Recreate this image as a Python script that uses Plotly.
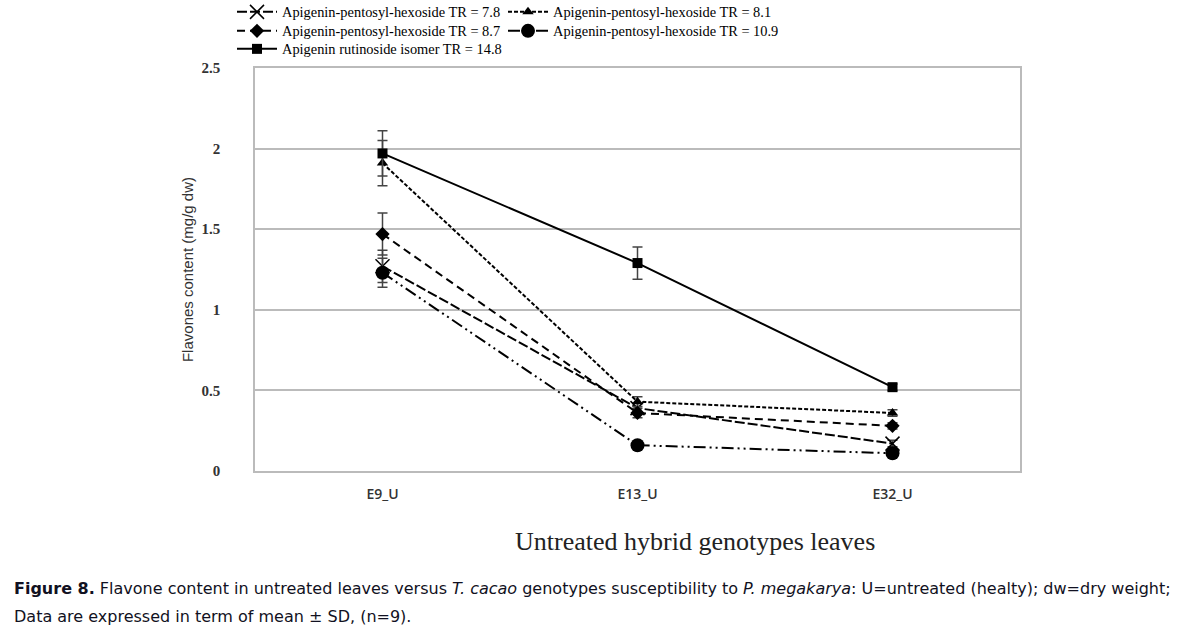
import plotly.graph_objects as go

categories = ["E9_U", "E13_U", "E32_U"]

names = [
    "Apigenin-pentosyl-hexoside TR = 7.8",
    "Apigenin-pentosyl-hexoside TR = 8.1",
    "Apigenin-pentosyl-hexoside TR = 8.7",
    "Apigenin-pentosyl-hexoside TR = 10.9",
    "Apigenin rutinoside isomer TR = 14.8",
]
tr78 = [1.27, 0.39, 0.17]
tr81 = [1.91, 0.43, 0.36]
tr87 = [1.47, 0.36, 0.28]
tr109 = [1.23, 0.16, 0.11]
tr148 = [1.97, 1.29, 0.52]

sd78 = [0.10, 0.03, 0.02]
sd81 = [0.14, 0.03, 0.02]
sd87 = [0.13, 0.03, 0.02]
sd109 = [0.09, 0.02, 0.02]
sd148 = [0.14, 0.10, 0.02]

values = [tr78, tr81, tr87, tr109, tr148]
sds = [sd78, sd81, sd87, sd109, sd148]
symbols = ["x-thin", "triangle-up", "diamond", "circle", "square"]
sizes = [14, 10, 11, 14, 10]
dashes = ["10px,3px", "4px,2px", "8px,5px", "12px,4px,2px,4px,2px,4px", "solid"]
legend_ids = ["legend", "legend2", "legend3", "legend4", "legend5"]

fig = go.Figure()
for name, v, sd, sym, sz, dsh, lg in zip(names, values, sds, symbols, sizes, dashes, legend_ids):
    fig.add_trace(go.Scatter(
        x=categories, y=v, name=name, mode="lines+markers",
        line=dict(color="black", width=2, dash=dsh),
        marker=dict(symbol=sym, size=sz, color="black",
                    line=dict(color="black", width=1.5 if sym == "x-thin" else 0)),
        error_y=dict(type="data", array=sd, visible=True, color="#444", thickness=1.5, width=5),
        legend=lg,
    ))

plot_l, plot_r, plot_t, plot_b = 255, 1020, 68, 471


def px_to_paper(xp, yp):
    return (xp - plot_l) / (plot_r - plot_l), (plot_b - yp) / (plot_b - plot_t)


legend_font = dict(family="Liberation Serif", size=14.4, color="black")


def leg(xpx, toppx):
    x, y = px_to_paper(xpx, toppx)
    return dict(orientation="h", xref="paper", yref="paper", x=x, y=y,
                xanchor="left", yanchor="top", font=legend_font,
                bgcolor="rgba(0,0,0,0)", itemwidth=40)


# legend grid: column x (px) and row top (px)
col_x = [232, 503]
row_top = [-4, 15, 33]
legend_pos = [(0, 0), (1, 0), (0, 1), (1, 1), (0, 2)]

ax, ay = px_to_paper(695, 541)
c1x, c1y = px_to_paper(12, 588)
c2x, c2y = px_to_paper(12, 616)

layout_legends = {}
for lid, (c, r) in zip(legend_ids, legend_pos):
    layout_legends[lid] = leg(col_x[c], row_top[r])

fig.update_layout(
    width=1187, height=634,
    margin=dict(l=plot_l, r=1187 - plot_r, t=plot_t, b=634 - plot_b, autoexpand=False),
    paper_bgcolor="white", plot_bgcolor="white",
    showlegend=True,
    xaxis=dict(type="category", range=[-0.5, 2.5], showgrid=False,
               showline=True, mirror=True, linecolor="#bbbbbb", linewidth=1.5,
               ticks="outside", ticklen=9, tickcolor="rgba(0,0,0,0)",
               tickfont=dict(family="Open Sans", size=14, color="#333333", weight=600)),
    yaxis=dict(range=[0, 2.5], dtick=0.5, showgrid=True, gridcolor="#bbbbbb", gridwidth=1.5,
               showline=True, mirror=True, linecolor="#bbbbbb", linewidth=1.5, zeroline=False,
               ticks="outside", ticklen=30, tickcolor="rgba(0,0,0,0)",
               tickfont=dict(family="Liberation Serif", size=15, color="#333333", weight="bold"),
               title=dict(text="Flavones content (mg/g dw)", standoff=4,
                          font=dict(family="Liberation Sans", size=15, color="#333333"))),
    annotations=[
        dict(text="Untreated hybrid genotypes leaves", xref="paper", yref="paper",
             x=ax, y=ay, xanchor="center", yanchor="middle", showarrow=False,
             font=dict(family="Liberation Serif", size=26, color="#222222")),
        dict(text="<b>Figure 8.</b> Flavone content in untreated leaves versus <i>T. cacao</i> genotypes susceptibility to <i>P. megakarya</i>: U=untreated (healty); dw=dry weight;",
             xref="paper", yref="paper", x=c1x, y=c1y, xanchor="left", yanchor="middle",
             showarrow=False, font=dict(family="DejaVu Sans", size=16, color="#111122")),
        dict(text="Data are expressed in term of mean ± SD, (n=9).",
             xref="paper", yref="paper", x=c2x, y=c2y, xanchor="left", yanchor="middle",
             showarrow=False, font=dict(family="DejaVu Sans", size=16, color="#111122")),
    ],
    **layout_legends,
)

fig.write_html("out.html")
